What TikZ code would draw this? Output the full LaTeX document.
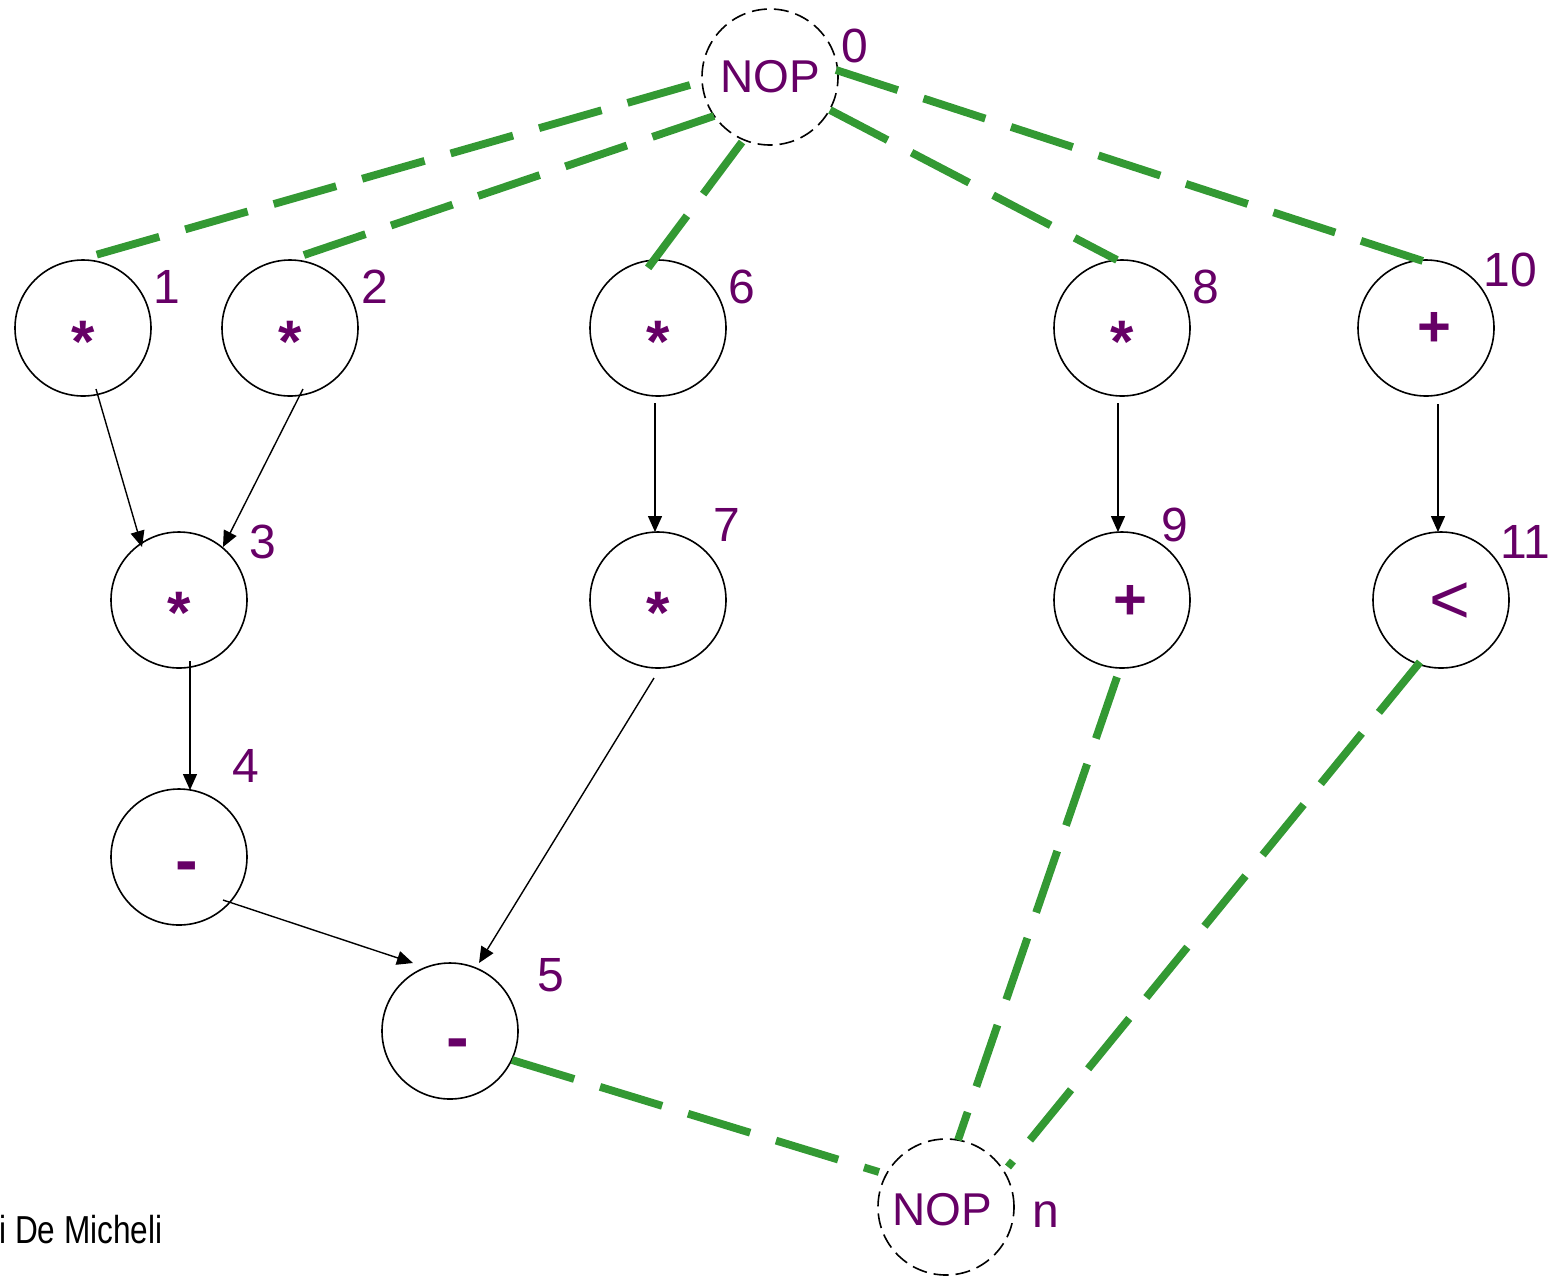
\documentclass[tikz,border=0pt]{standalone}
\usepackage{fontspec}
\setmainfont{Liberation Sans}
\usetikzlibrary{arrows.meta}
\definecolor{opcol}{RGB}{102,0,102}
\definecolor{depgreen}{RGB}{51,153,51}
% operator symbol set slightly off the circle centre: #1 kern, #2 raise, #3 symbol
\newcommand\opglyph[3]{\kern#1\raisebox{#2}[\height][\depth]{#3}}

\begin{document}
\begin{tikzpicture}[x=0.5pt,y=-0.5pt,
  op/.style={circle,draw,line width=0.8pt,minimum size=68pt,inner sep=0pt,text=opcol},
  mul/.style={op,font=\bfseries\fontsize{30}{30}\selectfont},
  add/.style={op,font=\bfseries\fontsize{29}{29}\selectfont},
  sub/.style={op,font=\bfseries\fontsize{34}{34}\selectfont},
  cmp/.style={op,font=\fontsize{35}{35}\selectfont},
  nop/.style={op,dash pattern=on 7.5pt off 3.5pt,font=\fontsize{23}{23}\selectfont},
  idx/.style={text=opcol,font=\fontsize{24}{24}\selectfont,inner sep=0pt},
  dep/.style={-{Triangle[length=8pt,width=7pt]},line width=0.7pt},
  seq/.style={depgreen,line width=3.9pt,dash pattern=on 32.5pt off 13.5pt}]
\useasboundingbox (0,0) rectangle (1558,1276);

% operation vertices
\node[nop] (n0)  at (770,77)   {NOP};
\node[mul] (n1)  at (83,328)   {\opglyph{0pt}{-7pt}{*}};
\node[mul] (n2)  at (290,328)  {\opglyph{0pt}{-7pt}{*}};
\node[mul] (n6)  at (658,328)  {\opglyph{0pt}{-7pt}{*}};
\node[mul] (n8)  at (1122,328) {\opglyph{0pt}{-7pt}{*}};
\node[add] (n10) at (1426,328) {\opglyph{8pt}{-0.5pt}{+}};
\node[mul] (n3)  at (179,600)  {\opglyph{0pt}{-6.5pt}{*}};
\node[mul] (n7)  at (658,600)  {\opglyph{0pt}{-6.5pt}{*}};
\node[add] (n9)  at (1122,600) {\opglyph{8pt}{-1pt}{+}};
\node[cmp] (n11) at (1441,600) {\opglyph{9pt}{-1.5pt}{<}};
\node[sub] (n4)  at (179,857)  {\opglyph{8pt}{-8pt}{-}};
\node[sub] (n5)  at (450,1031) {\opglyph{8pt}{-9.5pt}{-}};
\node[nop] (nn)  at (946,1207) {\opglyph{-4pt}{-1.5pt}{NOP}};

% vertex indices
\node[idx] (l0)  at (855,46)    {0};
\node[idx] (l1)  at (167,287)   {1};
\node[idx] (l2)  at (375,287)   {2};
\node[idx] (l6)  at (742,287)   {6};
\node[idx] (l8)  at (1206,287)  {8};
\node[idx] (l10) at (1510,270)  {10};
\node[idx] (l3)  at (263,542)   {3};
\node[idx] (l7)  at (727,525)   {7};
\node[idx] (l9)  at (1175,525)  {9};
\node[idx] (l11) at (1525,542)  {11};
\node[idx] (l4)  at (246,766)   {4};
\node[idx] (l5)  at (551,975)   {5};
\node[idx] (ln)  at (1046,1215) {n};

% source and sink polarity edges
\draw[seq] ([shift={(-80,8)}]n0.center)  -- ([shift={(2,-70)}]n1.center);
\draw[seq] ([shift={(-56,39)}]n0.center) -- ([shift={(11,-72)}]n2.center);
\draw[seq] ([shift={(-28,65)}]n0.center) -- ([shift={(-10,-60)}]n6.center);
\draw[seq] ([shift={(60,33)}]n0.center)  -- ([shift={(-5,-68)}]n8.center);
\draw[seq] ([shift={(66,-7)}]n0.center)  -- ([shift={(0,-66)}]n10.center);
\draw[seq] ([shift={(-5,77)}]n9.center)  -- ([shift={(12,-67)}]nn.center);
\draw[seq] ([shift={(-21,62)}]n11.center) -- ([shift={(62,-40)}]nn.center);
\draw[seq] ([shift={(62,29)}]n5.center)  -- ([shift={(-67,-35)}]nn.center);

% data dependencies
\draw[dep] ([shift={(13,61)}]n1.center) -- ([shift={(-37,-53)}]n3.center);
\draw[dep] ([shift={(13,61)}]n2.center) -- ([shift={(44,-53)}]n3.center);
\draw[dep] ([shift={(11,61)}]n3.center) -- ([shift={(11,-67)}]n4.center);
\draw[dep] ([shift={(-3,75)}]n6.center) -- ([shift={(-3,-68)}]n7.center);
\draw[dep] ([shift={(-4,75)}]n8.center) -- ([shift={(-4,-68)}]n9.center);
\draw[dep] ([shift={(12,76)}]n10.center) -- ([shift={(-3,-68)}]n11.center);
\draw[dep] ([shift={(44,43)}]n4.center) -- ([shift={(-37,-68)}]n5.center);
\draw[dep] ([shift={(-4,78)}]n7.center) -- ([shift={(29,-68)}]n5.center);

% author credit
\node[anchor=east,inner sep=0pt,font=\fontsize{19.5}{19.5}\selectfont] (credit) at (163,1230) {\scalebox{0.81}[1]{i De Micheli}};
\end{tikzpicture}
\end{document}
